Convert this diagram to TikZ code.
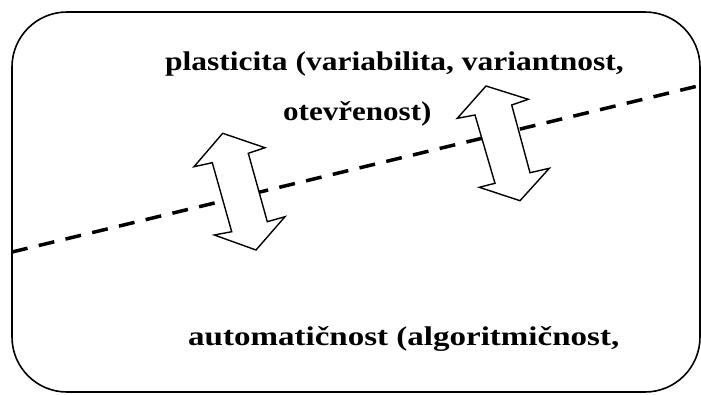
\documentclass[tikz,border=0pt]{standalone}
\usepackage{fontspec}
\setmainfont{Liberation Serif}
\begin{document}
\begin{tikzpicture}[x=1pt,y=-1pt,
  frame/.style={draw=black,line width=1.6pt,rounded corners=55pt},
  divider/.style={draw=black,line width=3.5pt,dash pattern=on 16pt off 11.5pt},
  dblarrow/.style={draw=black,fill=white,line width=1.4pt,line join=miter},
  label/.style={font=\fontsize{27}{32}\selectfont\bfseries,inner sep=0pt,anchor=base west}]
\useasboundingbox (0,0) rectangle (701,394);
\draw[frame] (12,12) rectangle (700,392);
\coordinate (dl) at (12,252);
\coordinate (dr) at (702,85);
\draw[divider] (dl) -- (dr);
% left double arrow
\draw[dblarrow] (222.7,133.3) -- (265,147.7) -- (248.3,153.3) -- (267.3,221.7)
  -- (285,216.7) -- (256,250) -- (214.3,235) -- (231.7,231.7) -- (212.3,162.7)
  -- (194,166.7) -- cycle;
% right double arrow
\draw[dblarrow] (486,86) -- (528.3,99.3) -- (511.7,105) -- (530,172.7)
  -- (549.3,168.3) -- (520,200.7) -- (479.3,187.3) -- (495,183.3) -- (475,115)
  -- (457.3,118.3) -- cycle;
\node[label] (t1) at (165,70) {\scalebox{1.167}[1]{plasticita (variabilita, variantnost,}};
\node[label] (t2) at (283,120) {\scalebox{1.15}[1]{otevřenost)}};
\node[label] (t3) at (188,345) {\scalebox{1.223}[1]{automatičnost (algoritmičnost,}};
\end{tikzpicture}
\end{document}
